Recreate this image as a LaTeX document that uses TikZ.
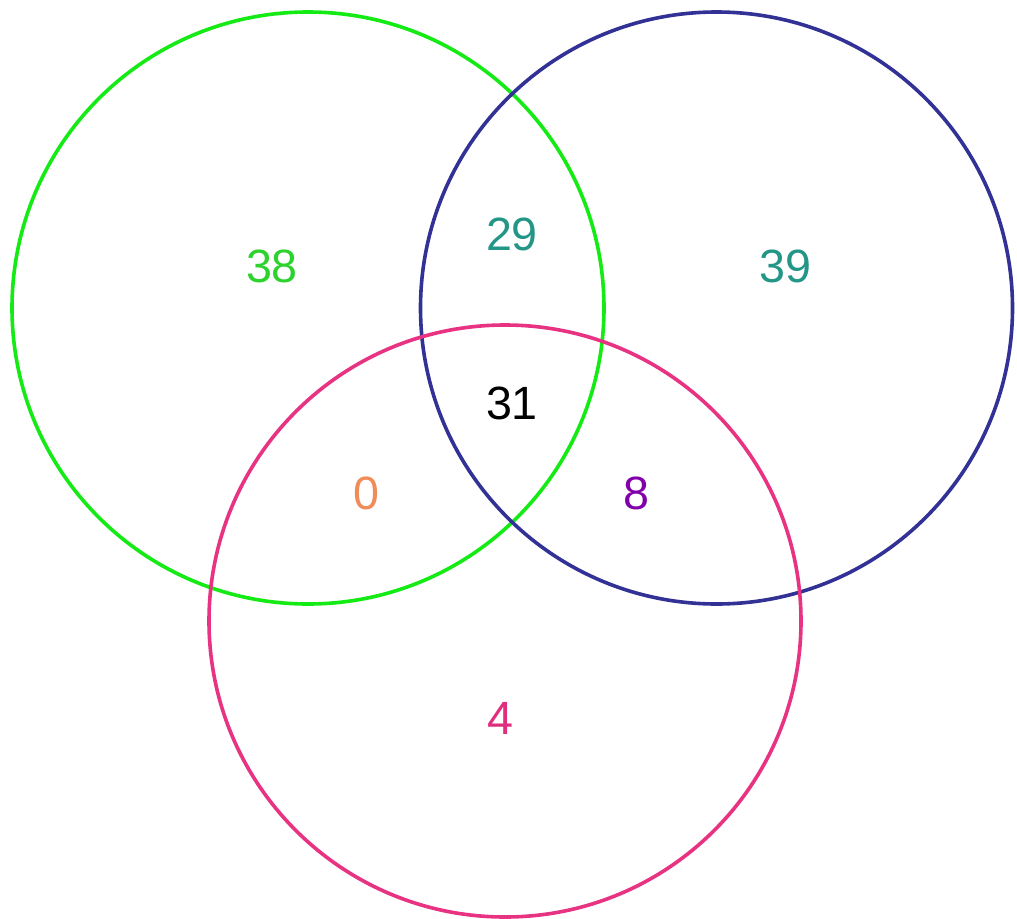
\documentclass[tikz,border=0pt]{standalone}
\usepackage{fontspec}
\setmainfont{Liberation Sans}
\definecolor{cgreen}{RGB}{20,235,20}
\definecolor{cblue}{RGB}{50,50,150}
\definecolor{cpink}{RGB}{232,50,130}
\definecolor{tgreen}{RGB}{45,210,45}
\definecolor{tteal}{RGB}{35,150,135}
\definecolor{torange}{RGB}{240,140,90}
\definecolor{tpurple}{RGB}{130,0,170}
\definecolor{tpink}{RGB}{225,45,125}
\tikzset{ring/.style={line width=2.7pt}, num/.style={font=\fontsize{35}{40}\selectfont, inner sep=0pt}}
\begin{document}
\begin{tikzpicture}[x=0.75pt,y=-0.75pt]
\useasboundingbox (0,0) rectangle (1017,918);
\fill[white] (0,0) rectangle (1017,918);
\draw[ring, cgreen] (308,308) circle (296);
\draw[ring, cblue] (716.5,308) circle (296);
\draw[ring, cpink] (505,621) circle (296);
\node[num, text=tgreen] (a) at (272,266) {38};
\node[num, text=tteal] (ab) at (512,234) {29};
\node[num, text=tteal] (b) at (785,266) {39};
\node[num, text=black] (abc) at (512,403) {31};
\node[num, text=torange] (ac) at (366,493) {0};
\node[num, text=tpurple] (bc) at (636,493) {8};
\node[num, text=tpink] (c) at (500,718) {4};
\end{tikzpicture}
\end{document}
